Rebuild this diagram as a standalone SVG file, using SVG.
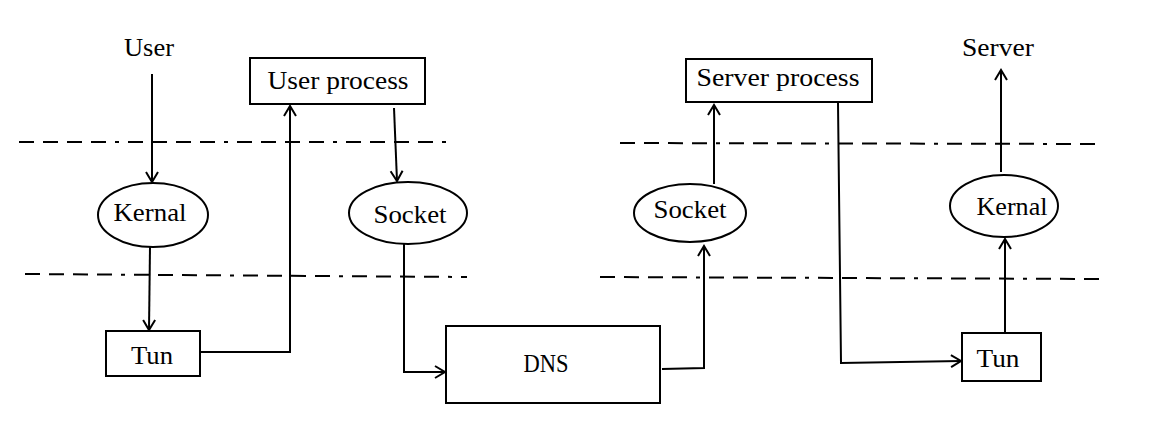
<svg xmlns="http://www.w3.org/2000/svg" width="1161" height="440" viewBox="0 0 1161 440">
<style>
text{font-family:"Liberation Serif","DejaVu Serif",serif;font-size:26px;fill:#000;text-anchor:middle}
.shape{fill:#fff;stroke:#000;stroke-width:2}
.conn{fill:none;stroke:#000;stroke-width:2}
.dash{fill:none;stroke:#000;stroke-width:2;stroke-dasharray:15 9 15 9 15 9 15 9 4 9}
</style>
<defs>
<marker id="arr" markerUnits="userSpaceOnUse" markerWidth="14" markerHeight="16" refX="11" refY="7" orient="auto">
<path d="M1,1 L11,7 L1,13" fill="none" stroke="#000" stroke-width="2"/>
</marker>
</defs>
<rect width="1161" height="440" fill="#fff"/>
<g id="dividers">
<line class="dash" x1="19" y1="142" x2="453" y2="142"/>
<line class="dash" x1="25" y1="274" x2="467" y2="277"/>
<line class="dash" x1="620" y1="143" x2="1098" y2="144"/>
<line class="dash" x1="600" y1="277" x2="1099" y2="279"/>
</g>
<g id="connectors">
<line class="conn" x1="152" y1="74" x2="152" y2="182" marker-end="url(#arr)"/>
<line class="conn" x1="150" y1="247" x2="149" y2="330" marker-end="url(#arr)"/>
<polyline class="conn" points="200,352 290,352 290,106" marker-end="url(#arr)"/>
<line class="conn" x1="394" y1="108" x2="397" y2="181" marker-end="url(#arr)"/>
<polyline class="conn" points="404,244 404,372 445,372" marker-end="url(#arr)"/>
<polyline class="conn" points="662,369 704,368 704,246" marker-end="url(#arr)"/>
<line class="conn" x1="714" y1="184" x2="714" y2="105" marker-end="url(#arr)"/>
<polyline class="conn" points="838,103 841,363 961,361" marker-end="url(#arr)"/>
<line class="conn" x1="1005" y1="332" x2="1005" y2="239" marker-end="url(#arr)"/>
<line class="conn" x1="1001" y1="172" x2="1001" y2="70" marker-end="url(#arr)"/>
</g>
<g id="user"><text x="149" y="56" textLength="50" lengthAdjust="spacingAndGlyphs">User</text></g>
<g id="user-process"><rect class="shape" x="250" y="58" width="175" height="46"/><text x="338" y="89" textLength="141" lengthAdjust="spacingAndGlyphs">User process</text></g>
<g id="kernal-left"><ellipse class="shape" cx="153" cy="215" rx="55" ry="32"/><text x="150" y="221" textLength="73" lengthAdjust="spacingAndGlyphs">Kernal</text></g>
<g id="socket-left"><ellipse class="shape" cx="408" cy="213" rx="59" ry="31"/><text x="410" y="223" textLength="73" lengthAdjust="spacingAndGlyphs">Socket</text></g>
<g id="tun-left"><rect class="shape" x="106" y="331" width="94" height="45"/><text x="152" y="364" textLength="42" lengthAdjust="spacingAndGlyphs">Tun</text></g>
<g id="dns"><rect class="shape" x="446" y="326" width="214" height="77"/><text x="546" y="372" textLength="45" lengthAdjust="spacingAndGlyphs">DNS</text></g>
<g id="server-process"><rect class="shape" x="686" y="59" width="186" height="43"/><text x="778" y="86" textLength="163" lengthAdjust="spacingAndGlyphs">Server process</text></g>
<g id="socket-right"><ellipse class="shape" cx="690" cy="213" rx="56" ry="29"/><text x="690" y="218" textLength="73" lengthAdjust="spacingAndGlyphs">Socket</text></g>
<g id="kernal-right"><ellipse class="shape" cx="1004" cy="206" rx="54" ry="31"/><text x="1012" y="215" textLength="71" lengthAdjust="spacingAndGlyphs">Kernal</text></g>
<g id="tun-right"><rect class="shape" x="962" y="333" width="79" height="48"/><text x="998" y="367" textLength="43" lengthAdjust="spacingAndGlyphs">Tun</text></g>
<g id="server"><text x="998" y="56" textLength="72" lengthAdjust="spacingAndGlyphs">Server</text></g>
</svg>
